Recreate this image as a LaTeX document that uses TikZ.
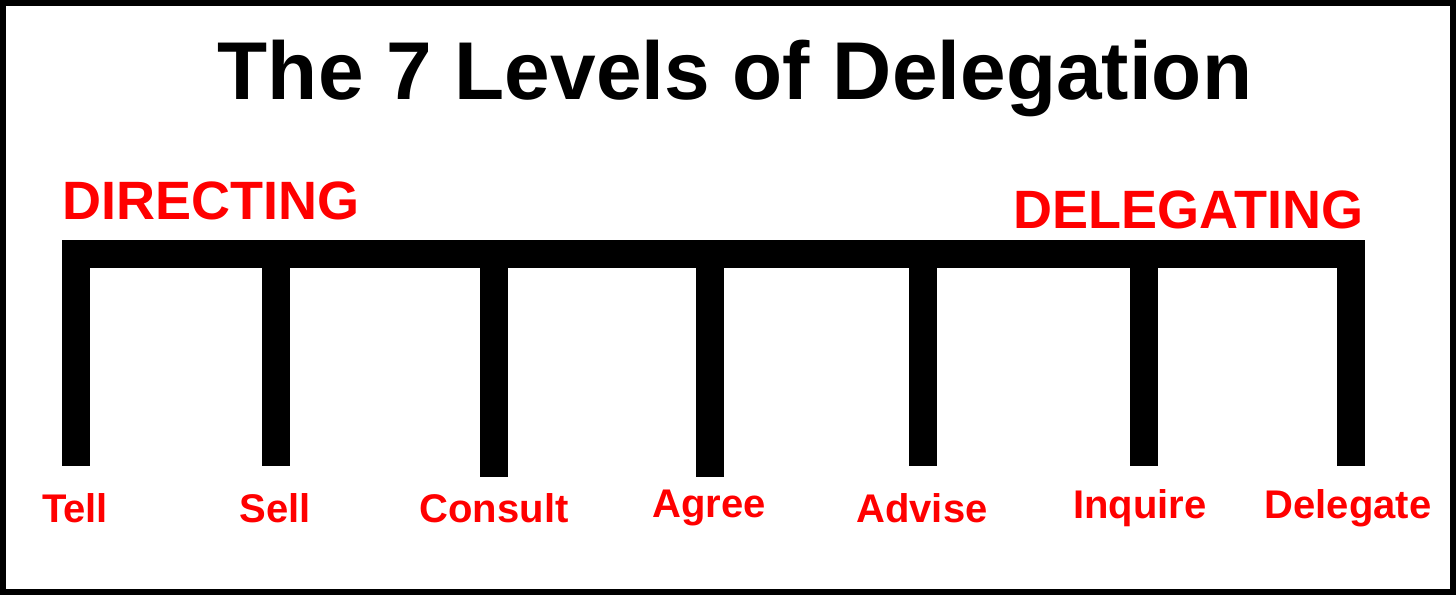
\documentclass[tikz,border=0pt]{standalone}
\usepackage{fontspec}
\setmainfont{Liberation Sans}
\definecolor{lred}{RGB}{255,0,0}
\begin{document}
\begin{tikzpicture}[x=1pt,y=-1pt,
  lbl/.style={text=lred,font=\bfseries\fontsize{40}{40}\selectfont,anchor=center,inner sep=0},
  big/.style={text=lred,font=\bfseries\fontsize{54}{54}\selectfont,inner sep=0},
  bar/.style={fill=black}]
\fill[white] (0,0) rectangle (1456,595);
\useasboundingbox (0,0) rectangle (1456,595);
\draw[line width=6pt] (3,3) rectangle (1453,592);
\node[font=\bfseries\fontsize{82}{82}\selectfont,inner sep=0] (title) at (735,78) {The 7 Levels of Delegation};
\node[big,anchor=west] (dir) at (62,201) {DIRECTING};
\node[big,anchor=east] (del) at (1364,210) {DELEGATING};
\fill[bar] (62,240) rectangle (1365,268);
\foreach \x/\y in {62/466,262/466,480/477,696/477,909/466,1130/466,1337/466}
  \fill[bar] (\x,240) rectangle (\x+28,\y);
\node[lbl] (l1) at (75,508) {Tell};
\node[lbl] (l2) at (275,508) {Sell};
\node[lbl] (l3) at (494,508) {Consult};
\node[lbl] (l4) at (709,508) {Agree};
\node[lbl] (l5) at (922,508) {Advise};
\node[lbl] (l6) at (1140,508) {Inquire};
\node[lbl] (l7) at (1348,508) {Delegate};
\end{tikzpicture}
\end{document}
